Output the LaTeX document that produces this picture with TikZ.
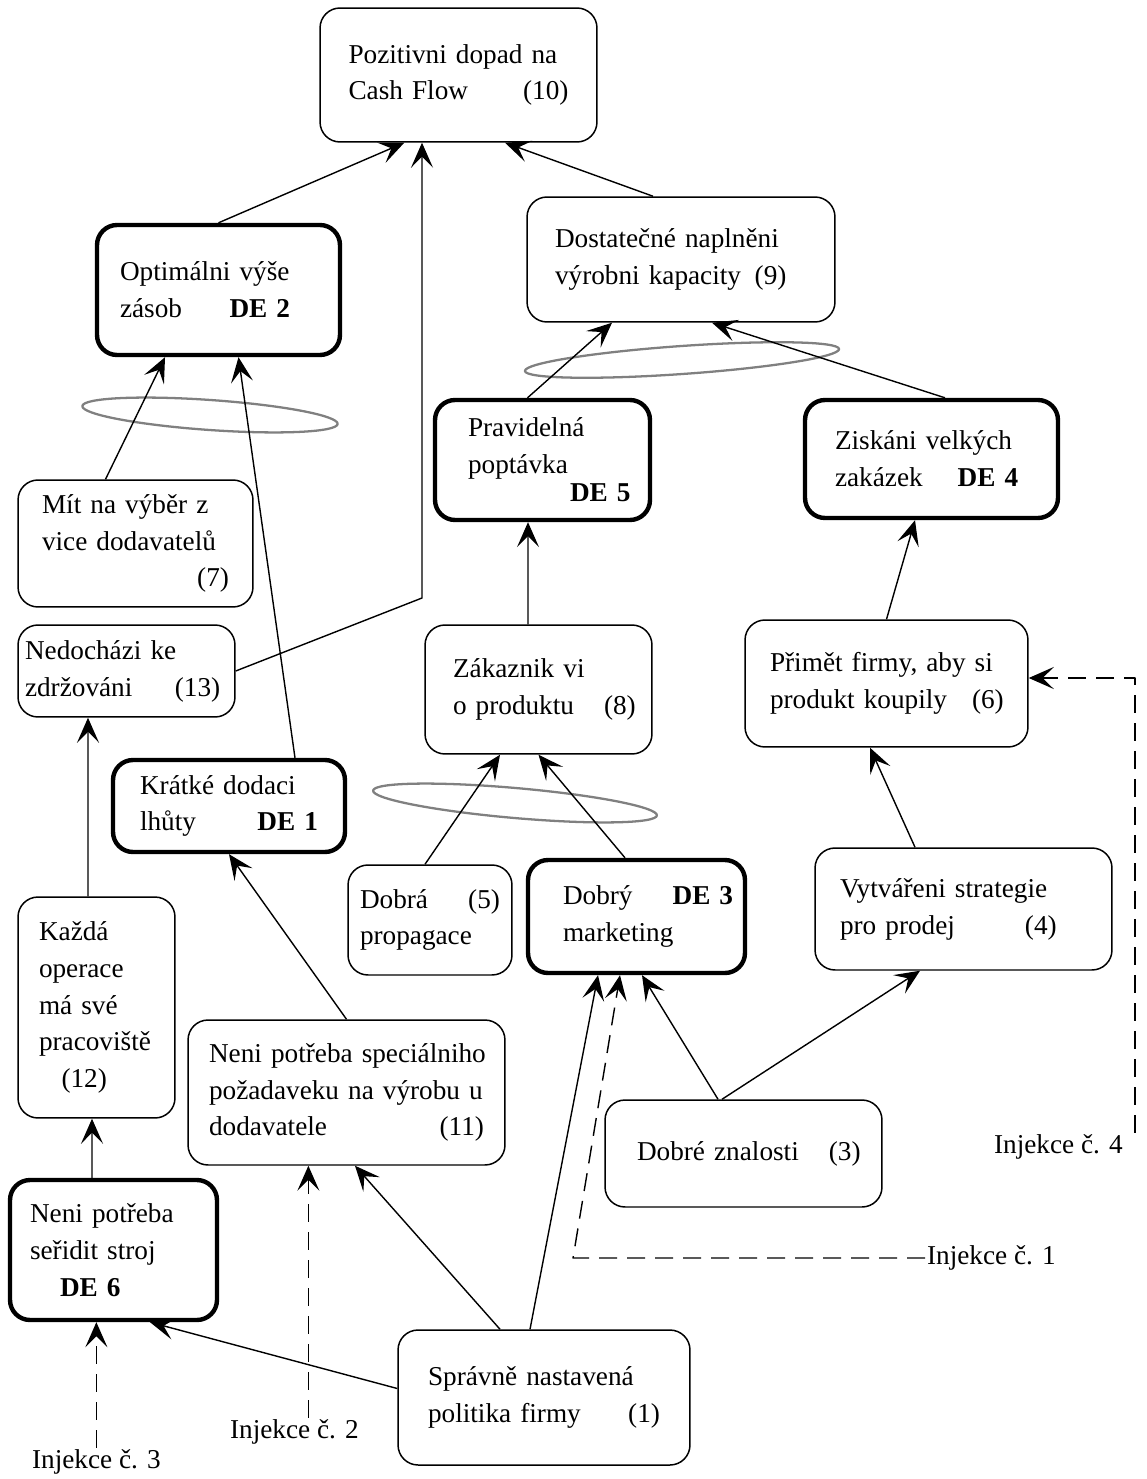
\documentclass[tikz,border=0pt]{standalone}
\usepackage{fontspec}
\setmainfont{Liberation Serif}
\usepackage{tikz}
\usetikzlibrary{arrows.meta,calc}
\newcommand{\dgfont}{\fontsize{15.5}{21}\selectfont}

\begin{document}
\begin{tikzpicture}[x=0.02cm,y=-0.02cm,>={Stealth[length=5mm,width=4.4mm,inset=2.2mm]},line join=round,
  box/.style={draw,rounded corners=0.4cm,line width=0.85pt,align=left,font=\dgfont,inner sep=0pt},
  debox/.style={box,line width=2.5pt},
  lbl/.style={font=\dgfont,inner sep=1pt},
  arr/.style={->,line width=0.8pt},
  inj/.style={->,line width=0.8pt,dash pattern=on 0.36cm off 0.2cm},
  grp/.style={draw=gray,line width=1.3pt}]
  \useasboundingbox (0,0) rectangle (1146,1479);
  \node[box,minimum width=5.54cm,minimum height=2.68cm,text width=4.4cm] (N10) at (458.5,75) {Pozitivni dopad na\\Cash Flow\hfill(10)};
  \node[debox,minimum width=4.86cm,minimum height=2.6cm,text width=3.94cm] (DE2) at (218.5,290) {Optimálni výše\\\mbox{zásob\hspace{0.95cm}\textbf{DE 2}}};
  \node[box,minimum width=6.16cm,minimum height=2.5cm,text width=5.04cm] (N9) at (681,259.5) {Dostatečné naplněni\\\mbox{výrobni kapacity\enspace(9)}};
  \node[debox,minimum width=4.3cm,minimum height=2.4cm,text width=2.98cm] (DE5) at (542.5,460) {Pravidelná\\poptávka\\[-5pt]\mbox{\hspace*{2.04cm}\textbf{DE 5}}};
  \node[debox,minimum width=5.06cm,minimum height=2.36cm,text width=3.86cm] (DE4) at (931.5,459) {Ziskáni velkých\\\mbox{zakázek\hspace{0.7cm}\textbf{DE 4}}};
  \node[box,minimum width=4.7cm,minimum height=2.54cm,text width=3.74cm] (N7) at (135.5,543.5) {Mít na výběr z\\vice dodavatelů\\\hfill(7)};
  \node[box,minimum width=4.34cm,minimum height=1.84cm,text width=4.06cm] (N13) at (126.5,671) {Nedocházi ke\\\mbox{zdržováni\hspace{0.85cm}(13)}};
  \node[box,minimum width=4.54cm,minimum height=2.58cm,text width=3.42cm] (N8) at (538.5,689.5) {Zákaznik vi\\\mbox{o produktu\hspace{0.6cm}(8)}};
  \node[box,minimum width=5.66cm,minimum height=2.54cm,text width=4.66cm] (N6) at (886.5,683.5) {Přimět firmy, aby si\\\mbox{produkt koupily\hspace{0.5cm}(6)}};
  \node[debox,minimum width=4.64cm,minimum height=1.84cm,text width=3.56cm] (DE1) at (229,806) {Krátké dodaci\\lhůty\hfill\textbf{DE 1}};
  \node[box,minimum width=3.28cm,minimum height=2.2cm,text width=2.8cm] (N5) at (430,920) {Dobrá\hfill(5)\\propagace};
  \node[debox,minimum width=4.34cm,minimum height=2.26cm,text width=2.94cm] (DE3) at (636.5,916.5) {\mbox{Dobrý\hspace{0.8cm}\textbf{DE 3}}\\marketing};
  \node[box,minimum width=5.94cm,minimum height=2.44cm,text width=4.94cm] (N4) at (963.5,909) {Vytvářeni strategie\\\mbox{pro prodej\hspace{1.4cm}(4)}};
  \node[box,minimum width=3.14cm,minimum height=4.42cm,text width=2.3cm] (N12) at (96.5,1007.5) {Každá\\operace\\má své\\pracoviště\\\hspace*{0.45cm}(12)};
  \node[box,minimum width=6.34cm,minimum height=2.9cm,text width=5.5cm] (N11) at (346.5,1092.5) {\mbox{Neni potřeba speciálniho}\\požadaveku na výrobu u\\dodavatele\hfill(11)};
  \node[box,minimum width=5.54cm,minimum height=2.14cm,text width=4.26cm] (N3) at (743.5,1153.5) {\mbox{Dobré znalosti\hspace{0.6cm}(3)}};
  \node[debox,minimum width=4.14cm,minimum height=2.8cm,text width=3.34cm] (DE6) at (113.5,1250) {Neni potřeba\\seřidit stroj\\\hspace*{0.6cm}\textbf{DE 6}};
  \node[box,minimum width=5.84cm,minimum height=2.7cm,text width=4.64cm] (N1) at (544,1397.5) {Správně nastavená\\politika firmy\hfill(1)};
  \node[lbl,anchor=west] (inj1) at (925,1258) {Injekce č. 1};
  \node[lbl,anchor=west] (inj2) at (228,1432) {Injekce č. 2};
  \node[lbl,anchor=west] (inj3) at (30,1462) {Injekce č. 3};
  \node[lbl,anchor=west] (inj4) at (992,1147) {Injekce č. 4};
  \coordinate (k13) at (422,598);
  \coordinate (k1) at (573,1258);
  \coordinate (k4) at (1135,678);
  \coordinate (t2) at ([xshift=0.28cm]inj2.north);
  \draw[grp,rotate around={-4:(210,415)}] (210,415) ellipse [x radius=2.56cm,y radius=0.3cm];
  \draw[grp,rotate around={4:(682,360)}] (682,360) ellipse [x radius=3.15cm,y radius=0.28cm];
  \draw[grp,rotate around={-5:(515,803)}] (515,803) ellipse [x radius=2.85cm,y radius=0.3cm];
  \draw[arr] (DE2.north) -- ([xshift=1.7cm]N10.south west);
  \draw[arr] (N13.east) -- (k13) -- (k13 |- N10.south);
  \draw[arr] ([xshift=-0.56cm]N9.north) -- ([xshift=0.93cm]N10.south);
  \draw[arr] ([xshift=-0.6cm]N7.north) -- ([xshift=-1.07cm]DE2.south);
  \draw[arr] ([xshift=1.32cm]DE1.north) -- ([xshift=0.4cm]DE2.south);
  \draw[arr] ([xshift=-0.3cm]DE5.north) -- ([xshift=-1.38cm]N9.south);
  \draw[arr] ([xshift=0.27cm]DE4.north) -- ([xshift=0.62cm]N9.south);
  \draw[arr] ([xshift=-0.21cm]N8.north) -- ([xshift=-0.29cm]DE5.south);
  \draw[arr] (N6.north) -- ([xshift=-0.33cm]DE4.south);
  \draw[arr] ([xshift=-0.1cm]N5.north) -- ([xshift=-0.77cm]N8.south);
  \draw[arr] ([xshift=-0.23cm]DE3.north) -- (N8.south);
  \draw[arr] ([xshift=-0.97cm]N4.north) -- ([xshift=-0.33cm]N6.south);
  \draw[arr] ([xshift=-0.51cm]N3.north) -- ([xshift=0.11cm]DE3.south);
  \draw[arr] ([xshift=-0.43cm]N3.north) -- ([xshift=-0.87cm]N4.south);
  \draw[arr] ([xshift=-0.17cm]N12.north) -- ([xshift=-0.77cm]N13.south);
  \draw[arr] ([xshift=-0.43cm]DE6.north) -- ([xshift=-0.09cm]N12.south);
  \draw[arr] (N11.north) -- (DE1.south);
  \draw[arr] ([xshift=-0.28cm]N1.north) -- ([xshift=-0.77cm]DE3.south);
  \draw[arr] ([xshift=-0.88cm]N1.north) -- ([xshift=0.17cm]N11.south);
  \draw[arr] ([yshift=0.18cm]N1.west) -- ([xshift=0.73cm]DE6.south);
  \draw[inj] (inj1.west) -- (k1) -- ([xshift=-0.33cm]DE3.south);
  \draw[inj] (t2) -- (t2 |- N11.south);
  \draw[inj] (inj3.north) -- (inj3.north |- DE6.south);
  \draw[inj] (k4 |- inj4.north) -- (k4) -- (N6.east |- k4);
\end{tikzpicture}
\end{document}
